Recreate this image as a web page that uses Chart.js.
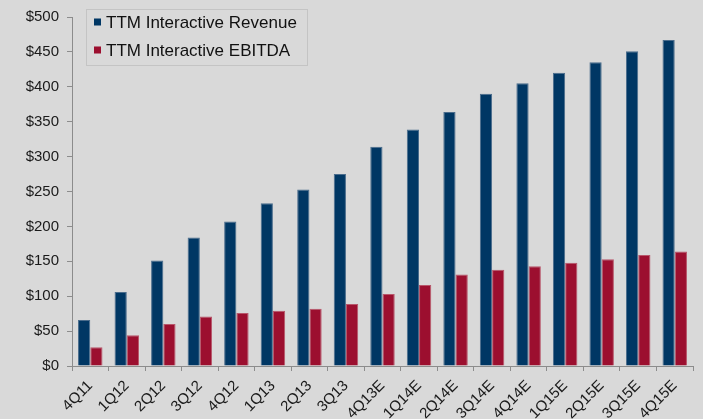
<!DOCTYPE html>
<html><head><meta charset="utf-8">
<script src="https://cdn.jsdelivr.net/npm/chart.js@4"></script>
<style>
html,body{margin:0;padding:0;background:#d9d9d9;}
#wrap{width:703px;height:419px;position:relative;}
</style></head>
<body><div id="wrap"><canvas id="c" width="703" height="419"></canvas></div>
<script>
const categories = ["4Q11","1Q12","2Q12","3Q12","4Q12","1Q13","2Q13","3Q13","4Q13E","1Q14E","2Q14E","3Q14E","4Q14E","1Q15E","2Q15E","3Q15E","4Q15E"];
const revenue = [66,106,151,184,207,233,253,275,314,339,364,390,405,420,435,451,467];
const ebitda = [27,44,60,71,76,79,82,89,103,116,131,138,143,148,153,159,164];
const yTicks = [0,50,100,150,200,250,300,350,400,450,500];
const seriesNames = ["TTM Interactive Revenue","TTM Interactive EBITDA"];

const legendBox = {
  id:'legendBox',
  afterDraw(chart){
    const ctx = chart.ctx;
    ctx.save();
    const x=86, y=9, w=221, h=56;
    ctx.strokeStyle='#c4c4c4'; ctx.lineWidth=1;
    ctx.strokeRect(x+0.5,y+0.5,w,h);
    ctx.font='17px "Liberation Sans", Arial, sans-serif';
    ctx.textBaseline='middle';
    chart.data.datasets.forEach((ds,i)=>{
      const cy = y+13+i*28;
      ctx.fillStyle=ds.backgroundColor;
      ctx.fillRect(x+8,cy-3.5,7,7);
      ctx.fillStyle='#111';
      ctx.fillText(ds.label,x+20,cy+1);
    });
    ctx.restore();
  }
};

new Chart(document.getElementById('c'),{
  type:'bar',
  data:{labels:categories,datasets:[
    {label:seriesNames[0],data:revenue,backgroundColor:'#003764',borderColor:'#4a6c8c',borderWidth:{top:1,left:1,right:1,bottom:0}},
    {label:seriesNames[1],data:ebitda,backgroundColor:'#9c0f2f',borderColor:'#b8566a',borderWidth:{top:1,left:1,right:1,bottom:0}}
  ]},
  options:{
    responsive:false,animation:false,
    layout:{padding:{top:15,right:10,left:0,bottom:0}},
    datasets:{bar:{categoryPercentage:0.67,barPercentage:1}},
    plugins:{legend:{display:false},tooltip:{enabled:false}},
    scales:{
      x:{
        offset:true,
        grid:{display:true,drawOnChartArea:false,drawTicks:true,tickLength:5,color:'#8c8c8c',offset:true},
        border:{display:true,color:'#8c8c8c'},
        ticks:{color:'#1a1a1a',font:{family:'"Liberation Sans", Arial, sans-serif',size:15},maxRotation:45,minRotation:45,autoSkip:false,padding:6},
        afterFit(s){s.height=53;}
      },
      y:{
        min:0,max:500,
        afterBuildTicks(s){s.ticks=yTicks.map(v=>({value:v}));},
        grid:{display:true,drawOnChartArea:false,drawTicks:true,tickLength:5,color:'#8c8c8c'},
        border:{display:true,color:'#8c8c8c'},
        ticks:{color:'#1a1a1a',font:{family:'"Liberation Sans", Arial, sans-serif',size:15},padding:8,callback:v=>'$'+v},
        afterFit(s){s.width=72;}
      }
    }
  },
  plugins:[legendBox]
});
</script></body></html>
